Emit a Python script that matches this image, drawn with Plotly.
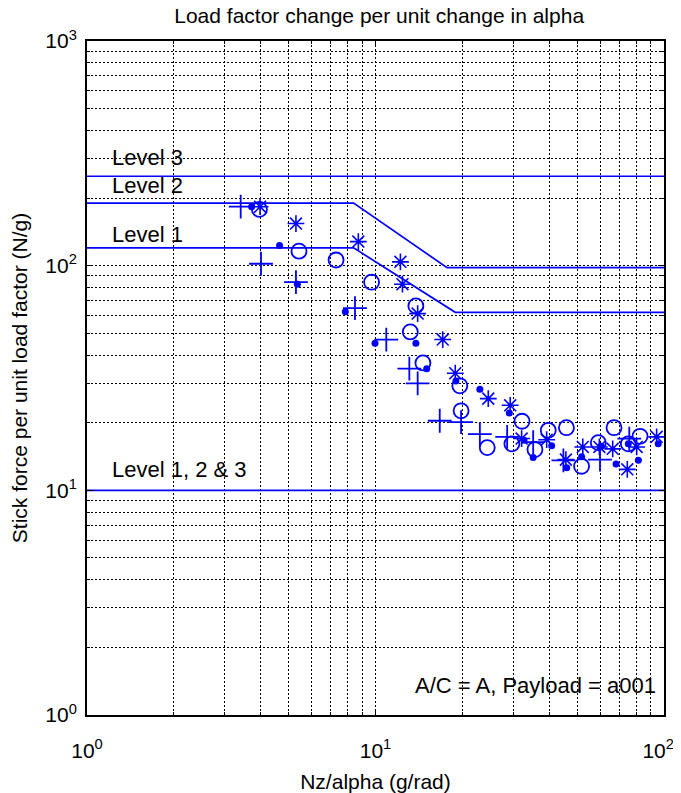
import math
import plotly.graph_objects as go

# ---------------- data ----------------
plus_x = [3.41, 4.01, 5.30, 8.49, 10.9, 13.1, 14.0, 16.7, 19.8, 23.0, 28.6, 35.2, 44.8, 60.0, 75.8]
plus_y = [183, 102, 84.4, 64.7, 46.9, 34.8, 29.9, 20.4, 20.1, 17.8, 17.3, 16.4, 13.6, 13.7, 17.0]

dot_x = [3.72, 4.65, 5.36, 7.86, 9.96, 13.8, 15.05, 19.0, 23.0, 29.1, 32.7, 40.8, 35.2, 46.0, 51.8, 60.5, 68.2, 75.2, 81.5, 95.5]
dot_y = [183, 123, 82.7, 62.3, 45.2, 45.2, 34.8, 30.7, 28.2, 22.1, 16.7, 15.8, 14.0, 12.6, 14.1, 15.7, 13.1, 16.1, 13.6, 16.1]

circ_x = [3.96, 5.43, 7.30, 9.69, 13.2, 13.8, 14.6, 19.6, 19.8, 24.4, 29.7, 32.2, 39.7, 35.7, 45.9, 51.8, 59.2, 67.1, 75.2, 82.6]
circ_y = [178, 116, 106, 84.4, 50.7, 66.2, 36.9, 29.2, 22.6, 15.5, 16.1, 20.3, 18.5, 15.2, 19.0, 12.8, 16.3, 19.0, 16.1, 17.4]

star_x = [3.98, 5.30, 8.72, 12.2, 12.4, 14.0, 17.1, 18.9, 24.6, 29.3, 32.1, 39.2, 45.7, 52.3, 59.7, 66.4, 74.6, 80.4, 94.3]
star_y = [183, 154, 128, 104, 82.7, 61.2, 46.9, 33.2, 25.6, 23.9, 17.0, 16.8, 13.7, 15.6, 15.6, 15.3, 12.4, 15.6, 17.3]

level3_x = [1, 100]
level3_y = [250, 250]
level2_x = [1, 8.4, 17.7, 100]
level2_y = [190, 190, 98, 98]
level1_x = [1, 8.4, 18.9, 100]
level1_y = [120, 120, 62, 62]
lower_x = [1, 100]
lower_y = [10, 10]

level_labels = ["Level 3", "Level 2", "Level 1", "Level 1, 2 &amp; 3"]
level_label_y = [302, 227, 138, 12.4]

x_tickvals = [1, 10, 100]
x_ticktext = ["10<sup>0</sup>", "10<sup>1</sup>", "10<sup>2</sup>&nbsp;&nbsp;"]
y_tickvals = [1, 10, 100, 1000]
y_ticktext = ["10<sup>0</sup>", "10<sup>1</sup>", "10<sup>2</sup>", "10<sup>3</sup>"]
x_minor = [2, 3, 4, 5, 6, 7, 8, 9, 20, 30, 40, 50, 60, 70, 80, 90]
y_minor = [2, 3, 4, 5, 6, 7, 8, 9, 20, 30, 40, 50, 60, 70, 80, 90,
           200, 300, 400, 500, 600, 700, 800, 900]

BLUE = "#0000FF"
FONT = "Liberation Sans, Arial, sans-serif"
FS = 21
DASH = "2px,2px"

# the page body adds an 8 px offset; the figure is sized to fit the window
W, H = 673, 785

fig = go.Figure()

for lx, ly in [(level3_x, level3_y), (level2_x, level2_y), (level1_x, level1_y), (lower_x, lower_y)]:
    fig.add_trace(go.Scatter(x=lx, y=ly, mode="lines", line=dict(color=BLUE, width=1.7),
                             showlegend=False, hoverinfo="skip"))

fig.add_trace(go.Scatter(x=plus_x, y=plus_y, mode="markers", showlegend=False,
                         marker=dict(symbol="cross-thin", size=17, color=BLUE,
                                     line=dict(color=BLUE, width=1.8))))
fig.add_trace(go.Scatter(x=dot_x, y=dot_y, mode="markers", showlegend=False,
                         marker=dict(symbol="circle", size=7, color=BLUE, line=dict(width=0))))
fig.add_trace(go.Scatter(x=circ_x, y=circ_y, mode="markers", showlegend=False,
                         marker=dict(symbol="circle-open", size=15, color=BLUE,
                                     line=dict(color=BLUE, width=1.8))))
fig.add_trace(go.Scatter(x=star_x, y=star_y, mode="markers", showlegend=False,
                         marker=dict(symbol="asterisk", size=14, color=BLUE,
                                     line=dict(color=BLUE, width=1.6))))

axis_common = dict(
    type="log", showline=True, linecolor="black", linewidth=2, mirror="allticks",
    ticks="inside", ticklen=6, tickcolor="black", tickwidth=1, automargin=False,
    showgrid=True, gridcolor="black", gridwidth=1, griddash=DASH,
    zeroline=False, tickfont=dict(family=FONT, size=FS, color="black"),
    ticklabeloverflow="allow",
)
minor_common = dict(tickmode="array", showgrid=True, gridcolor="black", griddash=DASH,
                    gridwidth=1, ticks="inside", ticklen=3, tickcolor="black")

fig.update_xaxes(**axis_common, range=[0, 2], tickmode="array", tickvals=x_tickvals,
                 ticktext=x_ticktext, ticklabelstandoff=16,
                 minor=dict(**minor_common, tickvals=x_minor),
                 title=dict(text="Nz/alpha (g/rad)", font=dict(family=FONT, size=FS, color="black"),
                            standoff=14))
fig.update_yaxes(**axis_common, range=[0, 3], tickmode="array", tickvals=y_tickvals,
                 ticktext=y_ticktext, ticklabelstandoff=4,
                 minor=dict(**minor_common, tickvals=y_minor),
                 title=dict(text="Stick force per unit load factor (N/g)",
                            font=dict(family=FONT, size=FS, color="black"), standoff=14))

ann_font = dict(family=FONT, size=FS + 1, color="black")
for txt, yv in zip(level_labels, level_label_y):
    fig.add_annotation(x=math.log10(1.2), y=math.log10(yv), xref="x", yref="y", text=txt,
                       showarrow=False, xanchor="left", yanchor="middle", font=ann_font)
fig.add_annotation(x=0.99, y=0.044, xref="paper", yref="paper", text="A/C = A, Payload = a001",
                   showarrow=False, xanchor="right", yanchor="middle", font=ann_font)

fig.update_layout(
    width=W, height=H,
    margin=dict(l=79, r=17, t=33, b=78),
    paper_bgcolor="white", plot_bgcolor="white",
    title=dict(text="Load factor change per unit change in alpha", x=0.5515, xanchor="center",
               y=1 - 8 / H, yanchor="middle", font=dict(family=FONT, size=FS, color="black")),
    font=dict(family=FONT, size=FS, color="black"),
)

fig.write_html("out.html")
